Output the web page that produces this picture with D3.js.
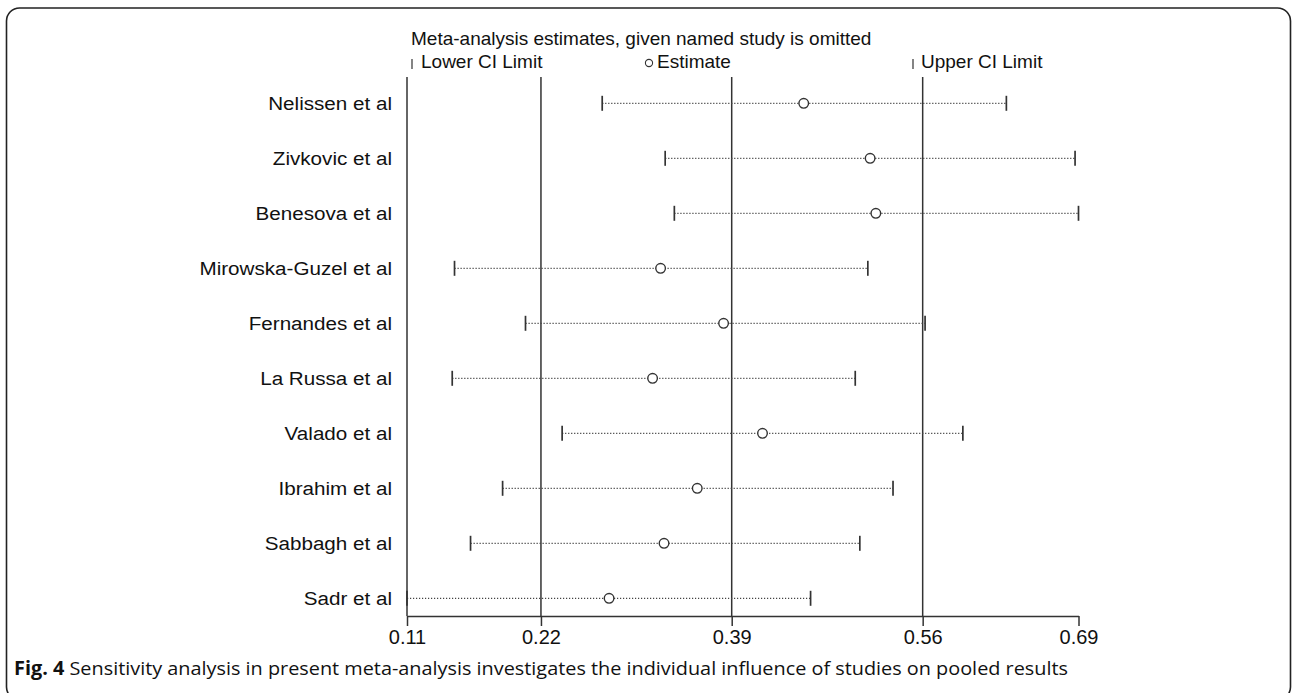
<!DOCTYPE html>
<html>
<head>
<meta charset="utf-8">
<script src="https://cdn.jsdelivr.net/npm/d3@7"></script>
<style>
  body { margin: 0; background: #fff; }
  svg { display: block; }
</style>
</head>
<body>
<div id="main"></div>
<script>
main = "#main"

// data (leave-one-out estimates)
let studies = ["Nelissen et al", "Zivkovic et al", "Benesova et al", "Mirowska-Guzel et al", "Fernandes et al",
    "La Russa et al", "Valado et al", "Ibrahim et al", "Sabbagh et al", "Sadr et al"]
let lowerCI = [0.276, 0.331, 0.339, 0.147, 0.209, 0.145, 0.241, 0.189, 0.161, 0.1055]
let estimates = [0.452, 0.510, 0.515, 0.327, 0.382, 0.320, 0.416, 0.359, 0.330, 0.282]
let upperCI = [0.629, 0.689, 0.692, 0.508, 0.558, 0.497, 0.591, 0.530, 0.501, 0.458]

// axis ticks: min lower, pooled lower, pooled estimate, pooled upper, max upper
let tickValues = [0.1055, 0.2225, 0.3891, 0.5559, 0.692]
let tickLabels = ["0.11", "0.22", "0.39", "0.56", "0.69"]
let refLines = [0.1055, 0.2225, 0.3891, 0.5559]

let W = 1292, H = 693
let plot = {left: 407, right: 1078.5, top: 77, axisY: 616, firstRow: 103.3, lastRow: 598.3}
let stretch = 1.11   // stata row labels are a bit wider than plain arial
let font = "'Liberation Sans', Arial, sans-serif"

let x = d3.scaleLinear()
    .domain([tickValues[0], tickValues[tickValues.length - 1]])
    .range([plot.left, plot.right])

let y = d3.scalePoint()
    .domain(studies)
    .range([plot.firstRow, plot.lastRow])

let svg = d3.select(main)
    .append("svg")
    .attr("width", W)
    .attr("height", H)

// frame round the figure
svg.append("rect")
    .attr("x", 6.5)
    .attr("y", 8)
    .attr("width", 1284)
    .attr("height", 692)
    .attr("rx", 13)
    .attr("fill", "none")
    .attr("stroke", "#222")
    .attr("stroke-width", 1.6)

function addText(g, tx, ty, txt, size, anchor, sx) {
    return g.append("text")
        .attr("transform", "translate(" + tx + "," + ty + ") scale(" + (sx || 1) + ",1)")
        .attr("text-anchor", anchor || "start")
        .attr("font-family", font)
        .attr("font-size", size + "px")
        .attr("fill", "#111")
        .text(txt)
}

// title + legend
addText(svg, 411, 45, "Meta-analysis estimates, given named study is omitted", 19)

let legend = svg.append("g")
legend.append("line")
    .attr("x1", 412).attr("x2", 412).attr("y1", 59).attr("y2", 69)
    .attr("stroke", "#333").attr("stroke-width", 1.2)
addText(legend, 421, 68, "Lower CI Limit", 19)
legend.append("circle")
    .attr("cx", 649).attr("cy", 63).attr("r", 3.6)
    .attr("fill", "none").attr("stroke", "#333").attr("stroke-width", 1.1)
addText(legend, 657, 68, "Estimate", 19)
legend.append("line")
    .attr("x1", 913).attr("x2", 913).attr("y1", 59).attr("y2", 69)
    .attr("stroke", "#333").attr("stroke-width", 1.2)
addText(legend, 921, 68, "Upper CI Limit", 19)

// vertical reference lines
svg.selectAll("line.ref")
    .data(refLines)
    .enter()
    .append("line")
    .attr("class", "ref")
    .attr("x1", d => x(d))
    .attr("x2", d => x(d))
    .attr("y1", plot.top)
    .attr("y2", plot.axisY)
    .attr("stroke", "#333")
    .attr("stroke-width", 1.5)

// x axis
let xAxis = svg.append("g")
    .attr("transform", "translate(0," + plot.axisY + ")")
    .call(d3.axisBottom(x)
        .tickValues(tickValues)
        .tickFormat((d, i) => tickLabels[i])
        .tickSize(10)
        .tickSizeOuter(0)
        .tickPadding(4))

xAxis.select(".domain").attr("stroke", "#333").attr("stroke-width", 1.5)
xAxis.selectAll(".tick line").attr("stroke", "#333").attr("stroke-width", 1.5)
xAxis.selectAll(".tick text")
    .attr("font-family", font)
    .attr("font-size", "20px")
    .attr("fill", "#111")
    .attr("dy", "0.72em")

// one row per omitted study
let rows = svg.selectAll("g.row")
    .data(studies.map((s, i) => ({name: s, lo: lowerCI[i], est: estimates[i], hi: upperCI[i]})))
    .enter()
    .append("g")
    .attr("class", "row")

rows.append("line")
    .attr("x1", d => x(d.lo))
    .attr("x2", d => x(d.hi))
    .attr("y1", d => y(d.name))
    .attr("y2", d => y(d.name))
    .attr("stroke", "#444")
    .attr("stroke-width", 1.2)
    .attr("stroke-dasharray", "1.2,1.8")

rows.selectAll("line.cap")
    .data(d => [{v: d.lo, name: d.name}, {v: d.hi, name: d.name}])
    .enter()
    .append("line")
    .attr("class", "cap")
    .attr("x1", d => x(d.v))
    .attr("x2", d => x(d.v))
    .attr("y1", d => y(d.name) - 7.5)
    .attr("y2", d => y(d.name) + 7.5)
    .attr("stroke", "#333")
    .attr("stroke-width", 1.7)

rows.append("circle")
    .attr("cx", d => x(d.est))
    .attr("cy", d => y(d.name))
    .attr("r", 4.8)
    .attr("fill", "#fff")
    .attr("stroke", "#333")
    .attr("stroke-width", 1.4)

rows.each(function (d) {
    addText(d3.select(this), 392, y(d.name) + 6.5, d.name, 18.6, "end", stretch)
})

// figure caption
let caption = svg.append("text")
    .attr("x", 14)
    .attr("y", 675)
    .attr("font-family", "'Open Sans', 'Noto Sans', sans-serif")
    .attr("font-size", "19px")
    .attr("fill", "#111")
    .attr("textLength", 1054)
    .attr("lengthAdjust", "spacingAndGlyphs")

caption.append("tspan")
    .attr("font-weight", "bold")
    .text("Fig. 4")
caption.append("tspan")
    .text(" Sensitivity analysis in present meta-analysis investigates the individual influence of studies on pooled results")
</script>
</body>
</html>
